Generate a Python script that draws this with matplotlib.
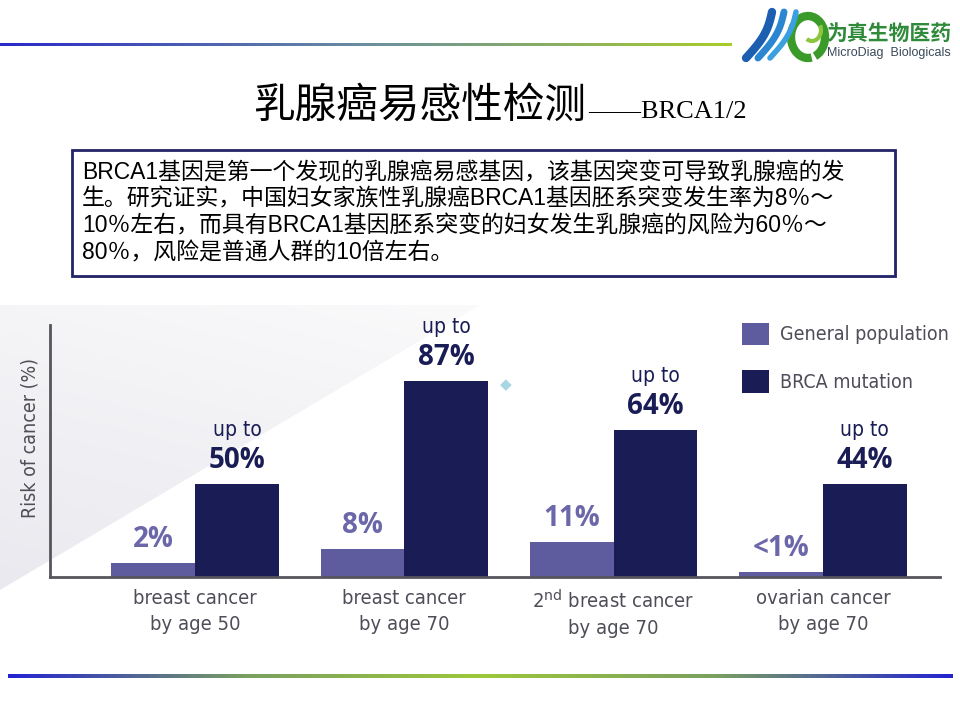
import numpy as np
import matplotlib
matplotlib.use("Agg")
import matplotlib.pyplot as plt
from matplotlib import font_manager
from matplotlib.patches import Rectangle, Polygon, Arc

# Donnees
categories = ["breast cancer\nby age 50", "breast cancer\nby age 70",
              "2$^{\\mathrm{nd}}$ breast cancer\nby age 70", "ovarian cancer\nby age 70"]
general_labels = ["2%", "8%", "11%", "<1%"]
brca_labels = ["50%", "87%", "64%", "44%"]
# hauteurs des barres telles que dessinees (echelle : barre 87% = 87)
general_heights = [6.2, 12.4, 15.5, 2.2]
brca_heights = [41.3, 87.0, 65.2, 41.3]
series_names = ["General population", "BRCA mutation"]

body_lines = [
    "BRCA1基因是第一个发现的乳腺癌易感基因，该基因突变可导致乳腺癌的发",
    "生。研究证实，中国妇女家族性乳腺癌BRCA1基因胚系突变发生率为8％～",
    "10％左右，而具有BRCA1基因胚系突变的妇女发生乳腺癌的风险为60％～",
    "80％，风险是普通人群的10倍左右。",
]

LIGHT = "#5f5b9f"
DARK = "#1a1c56"
LIGHT_TXT = "#6c67a8"
GREY_TXT = "#4e4e58"
CJK = ["Liberation Sans", "Noto Sans CJK SC", "DejaVu Sans"]

# recherche d'une police etroite installee
narrow = dict(family=["Roboto"], stretch="normal")
for f in font_manager.fontManager.ttflist:
    if f.stretch == "condensed" or "Condensed" in f.name or "Narrow" in f.name:
        narrow = dict(family=[f.name], stretch=f.stretch)
        break

plt.rcParams["mathtext.fontset"] = "custom"
plt.rcParams["mathtext.rm"] = narrow["family"][0]

W, H = 960, 720
fig = plt.figure(figsize=(9.6, 7.2), dpi=100)

# calque de decor en coordonnees pixels
deco = fig.add_axes([0, 0, 1, 1], zorder=0)
deco.axis("off")

def gradient_line(x0, x1, y, colors, lw):
    cmap = matplotlib.colors.LinearSegmentedColormap.from_list("g", colors)
    deco.imshow(np.linspace(0, 1, 400).reshape(1, -1), cmap=cmap, aspect="auto",
                extent=[x0, x1, y + lw / 2, y - lw / 2], interpolation="bilinear")

gradient_line(0, 732, 45, ["#2a2ac8", "#6a8fa0", "#a8cc2a"], 3)
gradient_line(8, 953, 676, ["#2424d0", "#7aa060", "#9cc83a", "#7aa060", "#2424d0"], 4)

# triangle gris tres clair en fond
gx, gy = np.meshgrid(np.linspace(0, 480, 200), np.linspace(305, 590, 120))
shade = 0.3 * (1 - gx / 480) + 0.7 * (gy - 305) / 285
bg_cmap = matplotlib.colors.LinearSegmentedColormap.from_list("bg", ["#fafafb", "#e9e9ef"])
img = deco.imshow(shade, cmap=bg_cmap, vmin=0, vmax=1, extent=[0, 480, 590, 305],
                  aspect="auto", interpolation="bilinear")
tri = Polygon([(0, 305), (0, 590), (480, 305)], closed=True, transform=deco.transData)
img.set_clip_path(tri)

# logo
t = np.linspace(0, 1, 40)
for k, c in enumerate(["#1c5fb0", "#2a86d0", "#3aa0e0"]):
    deco.plot(746 + 12 * k + 26 * t + 5 * np.sin(np.pi * t), 58 - 46 * t,
              color=c, lw=6 - k, solid_capstyle="round")
deco.add_patch(Arc((808, 37), 34, 42, theta1=80, theta2=430, lw=6, color="#3a9a2a"))
deco.add_patch(Arc((812, 30), 18, 22, theta1=-30, theta2=120, lw=3, color="#8cc63e"))
deco.text(827, 40, "为真生物医药", fontsize=15, fontweight="bold", color="#2f8a3a",
          family=["Noto Sans CJK SC"], va="baseline")
deco.text(827, 56, "MicroDiag  Biologicals", fontsize=9, color="#3a4a5a",
          family=["Liberation Sans"], va="baseline")

# titre
deco.text(586, 118, "乳腺癌易感性检测", fontsize=30, family=["Noto Sans CJK SC"],
          ha="right", va="baseline", color="black")
deco.text(588, 118, "——BRCA1/2", fontsize=19, family=["Liberation Serif"],
          ha="left", va="baseline", color="black")

# encadre de texte
deco.add_patch(Rectangle((74, 152), 823, 126, facecolor="#c8c8d8", edgecolor="none"))
deco.add_patch(Rectangle((72, 150), 823, 126, facecolor="white", edgecolor="#232368", lw=2))
for k, line in enumerate(body_lines):
    deco.text(82, 179 + 26.8 * k, line, fontsize=16.5, family=CJK, va="baseline",
              color="black")

# petit losange
deco.text(506, 385, "◆", fontsize=11, color="#a8d6e2", ha="center", va="center",
          family=["DejaVu Sans"])

deco.set_xlim(0, W)
deco.set_ylim(H, 0)

# graphique
ax = fig.add_axes([50 / W, 1 - 577 / H, 890 / W, 252 / H], zorder=1)
ax.patch.set_alpha(0)
x = np.arange(len(categories))
bw = 0.4
ax.bar(x - bw / 2, general_heights, bw, color=LIGHT, label=series_names[0])
ax.bar(x + bw / 2, brca_heights, bw, color=DARK, label=series_names[1])
ax.set_xlim(-0.693, 3.559)
ax.set_ylim(0, 111.85)
for s in ["top", "right"]:
    ax.spines[s].set_visible(False)
for s in ["left", "bottom"]:
    ax.spines[s].set_color("#55555c")
    ax.spines[s].set_linewidth(2)
ax.set_yticks([])
ax.set_xticks(x)
ax.set_xticklabels(categories, fontsize=14.5, color=GREY_TXT, linespacing=1.45,
                   family=narrow["family"], fontstretch=narrow["stretch"])
ax.tick_params(axis="x", length=0, pad=9)
ax.set_ylabel("Risk of cancer (%)", fontsize=14, color=GREY_TXT,
              family=narrow["family"], fontstretch=narrow["stretch"])
ax.yaxis.set_label_coords(-0.012, 0.55)

for xi, h, lab in zip(x, general_heights, general_labels):
    ax.annotate(lab, (xi - bw / 2, h), xytext=(0, 17), textcoords="offset points",
                ha="center", va="center", fontsize=20, fontweight="bold",
                color=LIGHT_TXT, family=["Open Sans"])
for xi, h, lab in zip(x, brca_heights, brca_labels):
    ax.annotate(lab, (xi + bw / 2, h), xytext=(0, 17), textcoords="offset points",
                ha="center", va="center", fontsize=20, fontweight="bold",
                color=DARK, family=["Open Sans"])
    ax.annotate("up to", (xi + bw / 2, h), xytext=(0, 39), textcoords="offset points",
                ha="center", va="center", fontsize=15, color=DARK,
                family=narrow["family"], fontstretch=narrow["stretch"])

ax.legend(loc="upper left", bbox_to_anchor=(724 / W, 1 - 305 / H),
          bbox_transform=fig.transFigure, frameon=False,
          prop={"family": narrow["family"], "stretch": narrow["stretch"], "size": 14},
          handlelength=1.4, handleheight=1.4, labelspacing=1.3, handletextpad=0.6,
          labelcolor=GREY_TXT)

fig.savefig("out.png", dpi=100)
